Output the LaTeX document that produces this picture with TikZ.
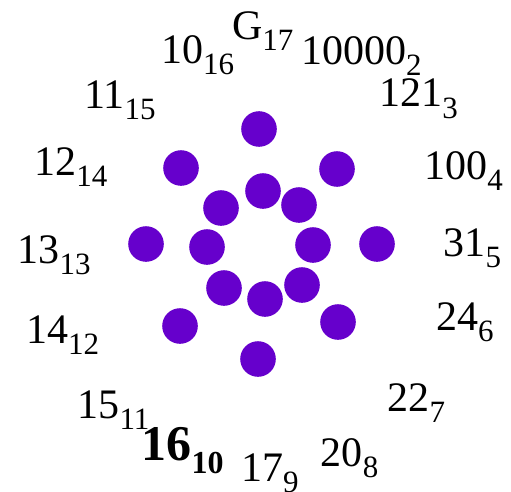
\documentclass[tikz,border=0pt]{standalone}
\usepackage{fontspec}
\setmainfont{Liberation Serif}
\usepackage{tikz}
\usetikzlibrary{positioning}
\definecolor{dotpurple}{RGB}{102,0,204}
\newcommand{\basenum}[2]{#1\raisebox{-11pt}{\fontsize{31}{31}\selectfont #2}}
\newcommand{\basenumbold}[2]{{\bfseries #1\raisebox{-13pt}{\fontsize{32}{32}\selectfont #2}}}

\begin{document}
\begin{tikzpicture}[
  x=1pt, y=-1pt,
  dot/.style={circle, fill=dotpurple, draw=none, inner sep=0pt, minimum size=35.6pt},
  numlabel/.style={anchor=base west, inner sep=0pt, outer sep=0pt, font=\fontsize{42}{48}\selectfont},
  boldlabel/.style={anchor=base west, inner sep=0pt, outer sep=0pt, font=\fontsize{50}{56}\selectfont}
]
\useasboundingbox (0,0) rectangle (511,492);
% outer ring of dots
\node[dot] (out1) at (259,129) {};
\node[dot] (out2) at (337,169) {};
\node[dot] (out3) at (377,244) {};
\node[dot] (out4) at (338,322) {};
\node[dot] (out5) at (258,359) {};
\node[dot] (out6) at (180,326) {};
\node[dot] (out7) at (146,244) {};
\node[dot] (out8) at (181,168) {};
% inner ring of dots
\node[dot] (in1) at (263,191) {};
\node[dot] (in2) at (299,205) {};
\node[dot] (in3) at (313,245) {};
\node[dot] (in4) at (302,285) {};
\node[dot] (in5) at (265,299) {};
\node[dot] (in6) at (224,288) {};
\node[dot] (in7) at (207,247) {};
\node[dot] (in8) at (221,208) {};
% numerals in bases 2 to 17
\node[numlabel] (b17) at (232,39.3) {\basenum{G}{17}};
\node[numlabel] (b2) at (301,65) {\basenum{10000}{2}};
\node[numlabel] (b3) at (379.3,107) {\basenum{121}{3}};
\node[numlabel] (b4) at (424.3,179.3) {\basenum{100}{4}};
\node[numlabel] (b5) at (443.5,256.7) {\basenum{31}{5}};
\node[numlabel] (b6) at (436,330.7) {\basenum{24}{6}};
\node[numlabel] (b7) at (387.7,411.7) {\basenum{22}{7}};
\node[numlabel] (b8) at (320.8,466.7) {\basenum{20}{8}};
\node[numlabel] (b9) at (241,481.7) {\basenum{17}{9}};
\node[boldlabel] (b10) at (141.5,460) {\basenumbold{16}{10}};
\node[numlabel] (b11) at (77.6,418.3) {\basenum{15}{11}};
\node[numlabel] (b12) at (26,343.3) {\basenum{14}{12}};
\node[numlabel] (b13) at (17.6,263.3) {\basenum{13}{13}};
\node[numlabel] (b14) at (34.3,175) {\basenum{12}{14}};
\node[numlabel] (b15) at (84.3,108.3) {\basenum{11}{15}};
\node[numlabel] (b16) at (161,63.3) {\basenum{10}{16}};
\end{tikzpicture}
\end{document}
